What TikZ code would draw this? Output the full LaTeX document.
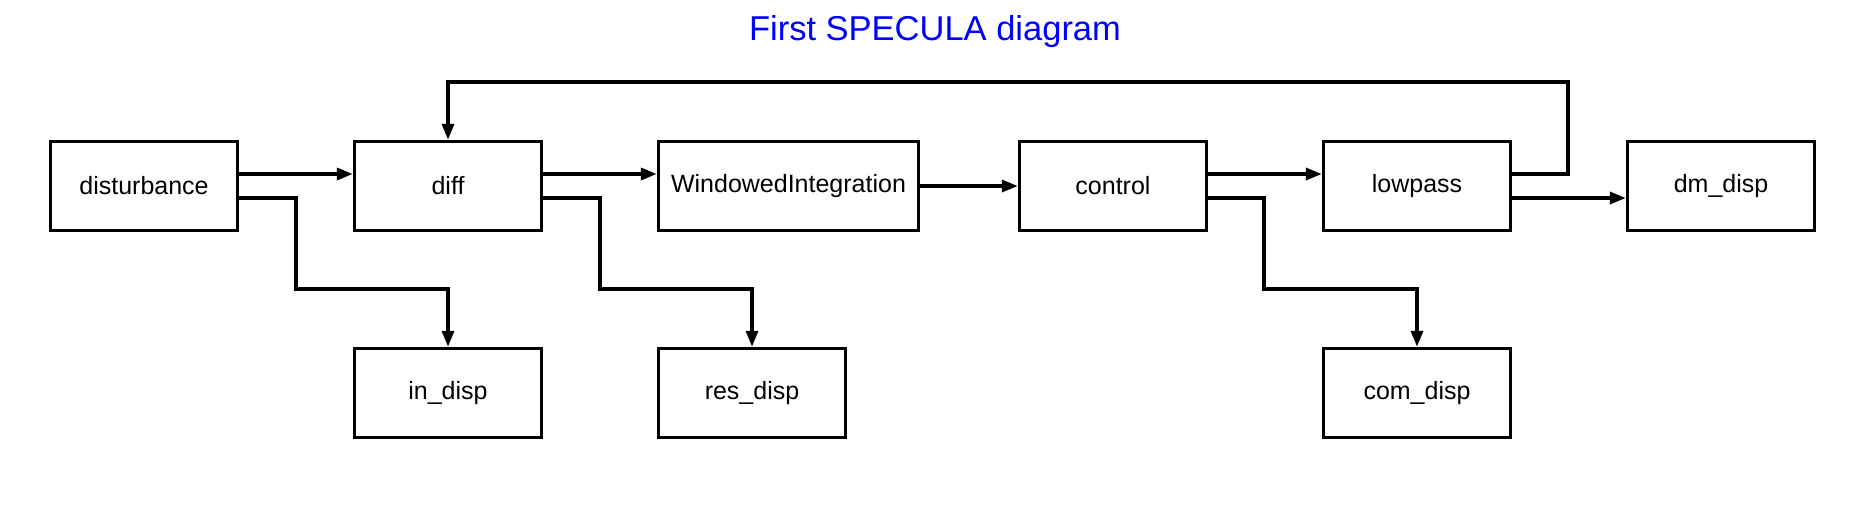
\documentclass[tikz,border=0pt]{standalone}
\usepackage{fontspec}
\setmainfont{Liberation Sans}
\usetikzlibrary{arrows.meta}
\begin{document}
\begin{tikzpicture}[x=1pt,y=-1pt,
  blk/.style={draw=black, line width=3.5pt, minimum width=187pt, minimum height=89pt,
    inner sep=0pt, font=\fontsize{25}{29}\selectfont},
  arr/.style={line width=3.5pt, -{Triangle[length=16pt,width=12pt]}}]
\useasboundingbox (0,0) rectangle (1865,512);
\node[text=blue, font=\fontsize{34.5}{40}\selectfont, anchor=base] (title) at (935,40) {First SPECULA diagram};
\node[blk] (dist) at (144,186) {disturbance};
\node[blk] (diff) at (448,186) {diff};
\node[blk, minimum width=260pt] (wi) at (788.5,186) {WindowedIntegration};
\node[blk] (ctrl) at (1113,186) {control};
\node[blk] (low) at (1417,186) {lowpass};
\node[blk] (dm) at (1721,186) {dm\_disp};
\node[blk] (in) at (448,393) {in\_disp};
\node[blk] (res) at (752,393) {res\_disp};
\node[blk] (com) at (1417,393) {com\_disp};
\coordinate (b1) at (296,289);
\coordinate (b2) at (600,289);
\coordinate (b3) at (1264,289);
\coordinate (fb) at (1568,82);
\draw[arr] ([yshift=12pt]dist.east) -- ([yshift=12pt]diff.west);
\draw[arr] ([yshift=-12pt]dist.east) -| (b1) -| (in.north);
\draw[arr] ([yshift=12pt]diff.east) -- ([yshift=12pt]wi.west);
\draw[arr] ([yshift=-12pt]diff.east) -| (b2) -| (res.north);
\draw[arr] (wi.east) -- (ctrl.west);
\draw[arr] ([yshift=12pt]ctrl.east) -- ([yshift=12pt]low.west);
\draw[arr] ([yshift=-12pt]ctrl.east) -| (b3) -| (com.north);
\draw[arr] ([yshift=12pt]low.east) -| (fb) -| (diff.north);
\draw[arr] ([yshift=-12pt]low.east) -- ([yshift=-12pt]dm.west);
\end{tikzpicture}
\end{document}
